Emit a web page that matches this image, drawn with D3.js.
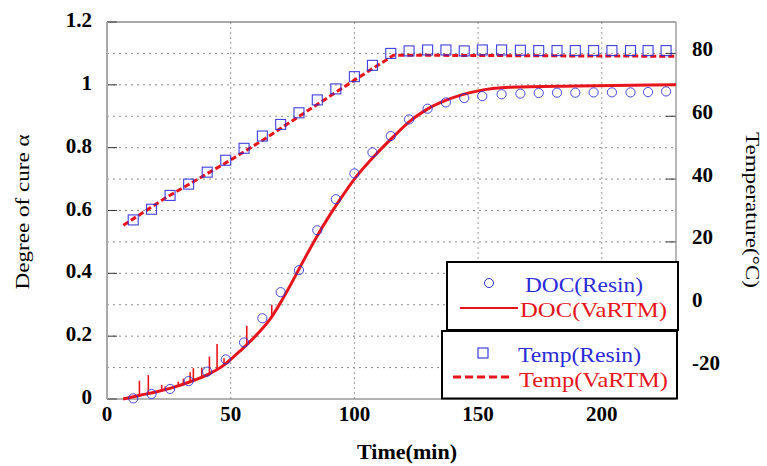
<!DOCTYPE html>
<html><head><meta charset="utf-8">
<script src="https://cdn.jsdelivr.net/npm/d3@7"></script>
<style>body{margin:0;background:#fff}svg{display:block}</style>
</head><body>
<svg id="c" width="767" height="466"></svg>
<script>
// ---- data ----
const resinTime = [10.6,18.0,25.5,33.0,40.5,48.0,55.4,62.8,70.2,77.6,85.0,92.5,100.0,107.3,114.7,122.1,129.6,137.0,144.4,151.7,159.5,167.1,174.5,181.9,189.3,196.7,204.1,211.6,218.7,226.0];
const docResin = [0.002,0.016,0.032,0.057,0.087,0.126,0.18,0.257,0.34,0.41,0.537,0.636,0.718,0.785,0.837,0.89,0.924,0.944,0.958,0.964,0.970,0.972,0.974,0.975,0.975,0.976,0.976,0.976,0.977,0.979];
const tempResin = [27.0,30.4,34.8,38.4,42.2,46.0,49.8,53.7,57.4,61.1,65.2,68.7,72.6,76.2,80.0,80.8,81.1,81.1,80.8,81.1,81.1,81.0,80.9,80.9,80.9,80.9,80.9,80.9,80.9,80.9];
const docLineTime = [6.5,13.4,20.1,26.8,33.6,40.3,47.1,53.8,60.6,66.0,73.4,80.1,86.9,93.6,100,107.8,115.8,122.6,129.3,137.4,149.6,163,190,230];
const docLine = [0,0.012,0.023,0.037,0.055,0.076,0.107,0.153,0.205,0.255,0.352,0.450,0.545,0.628,0.700,0.771,0.835,0.885,0.922,0.952,0.980,0.992,0.996,1.0];
const tempLineTime = [6.6,24.1,49.8,62.6,100,115.8,130,160,190,230];
const tempLine = [25.3,34.2,46.0,52.2,71.5,79.4,79.4,79.3,79.2,79.1];
const spikeTime = [13.1,16.7,22.1,23.5,28.8,30.9,33.6,34.9,38.3,41.4,44.5,47.3,56.5,66.6];
const spikeTop = [0.058,0.076,0.045,0.040,0.055,0.065,0.085,0.098,0.10,0.135,0.175,0.13,0.233,0.30];
const xTicks = [0,50,100,150,200];
const yTicks = [0,0.2,0.4,0.6,0.8,1,1.2];
const tTicks = [-20,0,20,40,60,80];
const gridY = [0.1,0.2,0.3,0.4,0.5,0.6,0.7,0.8,0.9,1.0,1.1];
const legendDOC = ["DOC(Resin)","DOC(VaRTM)"];
const legendTemp = ["Temp(Resin)","Temp(VaRTM)"];

// ---- layout ----
const L=107,R=676,T=22,B=399;
const FONT='"Liberation Serif","Times New Roman",serif';
const RED="#e8141c", BLUE="#2a2ad8";
const svg=d3.select("#c");
const x=d3.scaleLinear().domain([0,230]).range([L,R]);
const y=d3.scaleLinear().domain([0,1.2]).range([B,T]);
const yT=d3.scaleLinear().domain([-30,90]).range([B,T]);

// grid
const g=svg.append("g");
g.selectAll(".gy").data(gridY).join("line")
 .attr("x1",L).attr("x2",R).attr("y1",d=>y(d)).attr("y2",d=>y(d))
 .attr("stroke","#8a8a8a").attr("stroke-width",1).attr("stroke-dasharray","2,4");
g.selectAll(".gx").data(xTicks.filter(d=>d>0)).join("line")
 .attr("x1",d=>x(d)).attr("x2",d=>x(d)).attr("y1",T).attr("y2",B)
 .attr("stroke","#9a9a9a").attr("stroke-width",1).attr("stroke-dasharray","2,3");

// ticks (inward)
g.selectAll(".tl").data(yTicks).join("line")
 .attr("x1",L).attr("x2",L+10).attr("y1",d=>y(d)).attr("y2",d=>y(d)).attr("stroke","#333");
g.selectAll(".tr").data(tTicks).join("line")
 .attr("x1",R-10).attr("x2",R).attr("y1",d=>yT(d)).attr("y2",d=>yT(d)).attr("stroke","#333");

// frame
svg.append("line").attr("x1",L).attr("x2",R).attr("y1",T).attr("y2",T).attr("stroke","#555").attr("stroke-width",1.2);
svg.append("line").attr("x1",L).attr("x2",R).attr("y1",B).attr("y2",B).attr("stroke","#666").attr("stroke-width",1.2);
svg.append("line").attr("x1",L).attr("x2",L).attr("y1",T).attr("y2",B).attr("stroke","#aaa").attr("stroke-width",2);
svg.append("line").attr("x1",R).attr("x2",R).attr("y1",T).attr("y2",B).attr("stroke","#888").attr("stroke-width",1.2);

// tick labels
svg.selectAll(".yl").data(yTicks).join("text")
 .attr("x",92).attr("y",d=>y(d)+5).attr("text-anchor","end")
 .attr("font-family",FONT).attr("font-weight","bold").attr("font-size",21).text(d=>d3.format("~g")(d));
svg.selectAll(".xl").data(xTicks).join("text")
 .attr("x",d=>x(d)).attr("y",421).attr("text-anchor","middle")
 .attr("font-family",FONT).attr("font-weight","bold").attr("font-size",21).text(d=>d);
svg.selectAll(".rl").data(tTicks).join("text")
 .attr("x",692).attr("y",d=>yT(d)+2.5).attr("text-anchor","start")
 .attr("font-family",FONT).attr("font-weight","bold").attr("font-size",21).text(d=>d);

// axis titles
svg.append("text").attr("transform","translate(407,459)").attr("text-anchor","middle")
 .attr("font-family",FONT).attr("font-weight","bold").attr("font-size",21)
 .attr("textLength",100).attr("lengthAdjust","spacingAndGlyphs").text("Time(min)");
svg.append("text").attr("transform","translate(29,212) rotate(-90)").attr("text-anchor","middle")
 .attr("font-family",FONT).attr("font-size",19)
 .attr("textLength",155).attr("lengthAdjust","spacingAndGlyphs").text("Degree of cure α");
svg.append("text").attr("transform","translate(746,210) rotate(90)").attr("text-anchor","middle")
 .attr("font-family",FONT).attr("font-size",19)
 .attr("textLength",156).attr("lengthAdjust","spacingAndGlyphs").text("Temperature(°C)");

// DOC line
const docPts=docLineTime.map((t,i)=>[t,docLine[i]]);
svg.append("path").datum(docPts)
 .attr("d",d3.line().x(d=>x(d[0])).y(d=>y(d[1])).curve(d3.curveMonotoneX))
 .attr("fill","none").attr("stroke",RED).attr("stroke-width",3);
// spikes
const interp=t=>{const i=Math.max(1,d3.bisectLeft(docLineTime,t));const t0=docLineTime[i-1],t1=docLineTime[i];return docLine[i-1]+(docLine[i]-docLine[i-1])*(t-t0)/(t1-t0);};
svg.selectAll(".sp").data(spikeTime).join("line")
 .attr("x1",d=>x(d)).attr("x2",d=>x(d)).attr("y1",d=>y(interp(d))).attr("y2",(d,i)=>y(spikeTop[i]))
 .attr("stroke",RED).attr("stroke-width",1.6);

// Temp line
const tPts=tempLineTime.map((t,i)=>[t,tempLine[i]]);
svg.append("path").datum(tPts)
 .attr("d",d3.line().x(d=>x(d[0])).y(d=>yT(d[1])))
 .attr("fill","none").attr("stroke",RED).attr("stroke-width",3).attr("stroke-dasharray","6,3");

// markers
svg.selectAll(".ci").data(resinTime).join("circle")
 .attr("cx",d=>x(d)).attr("cy",(d,i)=>y(docResin[i])).attr("r",4.6)
 .attr("fill","none").attr("stroke",BLUE).attr("stroke-width",1).attr("opacity",0.85);
svg.selectAll(".sq").data(resinTime).join("rect")
 .attr("x",d=>x(d)-5).attr("y",(d,i)=>yT(tempResin[i])-5).attr("width",10).attr("height",10)
 .attr("fill","none").attr("stroke",BLUE).attr("stroke-width",1.1).attr("opacity",0.9);

// legend
const lg=svg.append("g");
lg.append("rect").attr("x",447).attr("y",262).attr("width",231).attr("height",68).attr("fill","#fff").attr("stroke","#000").attr("stroke-width",2);
lg.append("rect").attr("x",442).attr("y",331).attr("width",235).attr("height",67.5).attr("fill","#fff").attr("stroke","#000").attr("stroke-width",2);
lg.append("circle").attr("cx",489).attr("cy",283).attr("r",4.5).attr("fill","none").attr("stroke",BLUE).attr("stroke-width",1);
lg.append("line").attr("x1",460).attr("x2",518).attr("y1",308).attr("y2",308).attr("stroke",RED).attr("stroke-width",2);
lg.append("rect").attr("x",478).attr("y",348).attr("width",10).attr("height",10).attr("fill","none").attr("stroke",BLUE).attr("stroke-width",1.1);
lg.append("line").attr("x1",453).attr("x2",513).attr("y1",377).attr("y2",377).attr("stroke",RED).attr("stroke-width",3).attr("stroke-dasharray","8,4");
const legText=[[legendDOC[0],525,292,118,BLUE],[legendDOC[1],520,316.5,147,RED],[legendTemp[0],518,361.5,123,BLUE],[legendTemp[1],519,386.5,149,RED]];
lg.selectAll(".lt").data(legText).join("text")
 .attr("x",d=>d[1]).attr("y",d=>d[2]).attr("fill",d=>d[4])
 .attr("font-family",FONT).attr("font-size",22)
 .attr("textLength",d=>d[3]).attr("lengthAdjust","spacingAndGlyphs").text(d=>d[0]);
</script>
</body></html>
